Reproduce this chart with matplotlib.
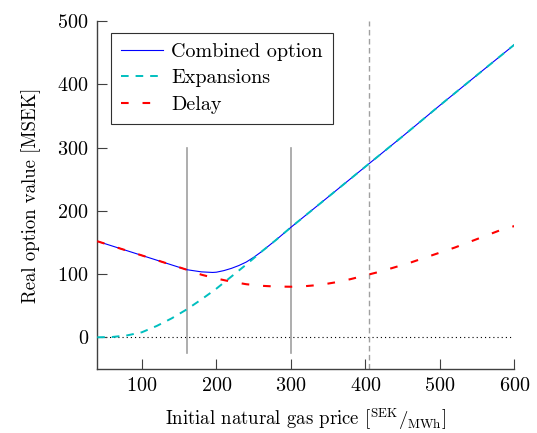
import matplotlib
matplotlib.use("Agg")
import matplotlib.pyplot as plt

plt.rcParams["font.family"] = "cmr10"
plt.rcParams["mathtext.fontset"] = "cm"
plt.rcParams["axes.formatter.use_mathtext"] = True
plt.rcParams["lines.scale_dashes"] = False

# Combined option value [MSEK] vs initial gas price [SEK/MWh]
price_comb = [40, 60, 80, 100, 120, 140, 160, 180, 195, 200, 210, 220, 230, 240,
              250, 260, 270, 280, 300, 350, 400, 450, 500, 550, 600]
value_comb = [152, 144.5, 137, 129.5, 122, 114.5, 107, 103.5, 102.6, 103, 105.5,
              109, 113.5, 119, 126.5, 135, 144.5, 154, 174, 222, 270, 318, 367,
              415, 463]

# Expansion option
price_exp = [40, 60, 80, 100, 120, 140, 160, 180, 200, 220, 240, 260, 280,
             300, 350, 400, 450, 500, 550, 600]
value_exp = [0, 0.5, 3, 8, 18, 30, 44, 60, 77, 96, 115, 135, 154,
             174, 222, 270, 318, 367, 415, 463]

# Delay option
price_delay = [40, 60, 80, 100, 120, 140, 160, 180, 200, 220, 240, 260, 280,
               300, 320, 340, 360, 380, 400, 420, 440, 460, 480, 500, 520,
               540, 560, 580, 600]
value_delay = [152, 144.5, 137, 129.5, 122, 114.5, 107, 99, 93, 88, 84, 81.5,
               80.3, 80, 81, 83, 87, 92, 98, 104, 111, 118, 126, 134, 142,
               151, 160, 169, 176]

# Reference price levels
band_prices = [160, 300]
threshold_price = 405

xticks = [100, 200, 300, 400, 500, 600]
yticks = [0, 100, 200, 300, 400, 500]

fig = plt.figure(figsize=(5.37, 4.33), dpi=100)
ax = fig.add_axes([0.181, 0.148, 0.777, 0.803])

ax.plot([40, 600], [0, 0], color="black", lw=0.8, linestyle=(0, (0.8, 2.2)), zorder=1)
for p in band_prices:
    ax.plot([p, p], [-25, 300], color="#a0a0a0", lw=1.2, zorder=1)
ax.axvline(threshold_price, color="#a0a0a0", lw=1.0, linestyle=(0, (4, 2.5)), zorder=1)

ax.plot(price_comb, value_comb, color="blue", lw=0.8, label="Combined option", zorder=2)
ax.plot(price_exp, value_exp, color="#00bfbf", lw=1.4, linestyle=(0, (5.5, 5)),
        label="Expansions", zorder=3)
ax.plot(price_delay, value_delay, color="red", lw=1.5, linestyle=(0, (5.5, 10)),
        label="Delay", zorder=3)

ax.set_xlim(40, 600)
ax.set_ylim(-50, 500)
ax.set_xticks(xticks)
ax.set_yticks(yticks)
ax.tick_params(direction="in", length=7.5, width=0.8, color="#404040",
               labelsize=14.5, pad=6)
for s in ["top", "right"]:
    ax.spines[s].set_visible(False)
for s in ["left", "bottom"]:
    ax.spines[s].set_color("#404040")
    ax.spines[s].set_linewidth(1.0)

ax.set_xlabel(r"Initial natural gas price [$^{\mathrm{SEK}}/_{\mathrm{MWh}}$]", fontsize=13.5, labelpad=8)
ax.set_ylabel("Real option value [MSEK]", fontsize=13.5, labelpad=12)

leg = ax.legend(loc="upper left", bbox_to_anchor=(0.032, 0.967), borderaxespad=0,
                fontsize=14.5, fancybox=False, framealpha=1, edgecolor="#303030",
                handlelength=2.1, handletextpad=0.4, borderpad=0.5, labelspacing=0.42)
leg.get_frame().set_linewidth(0.8)

fig.savefig("out.png", dpi=100)
